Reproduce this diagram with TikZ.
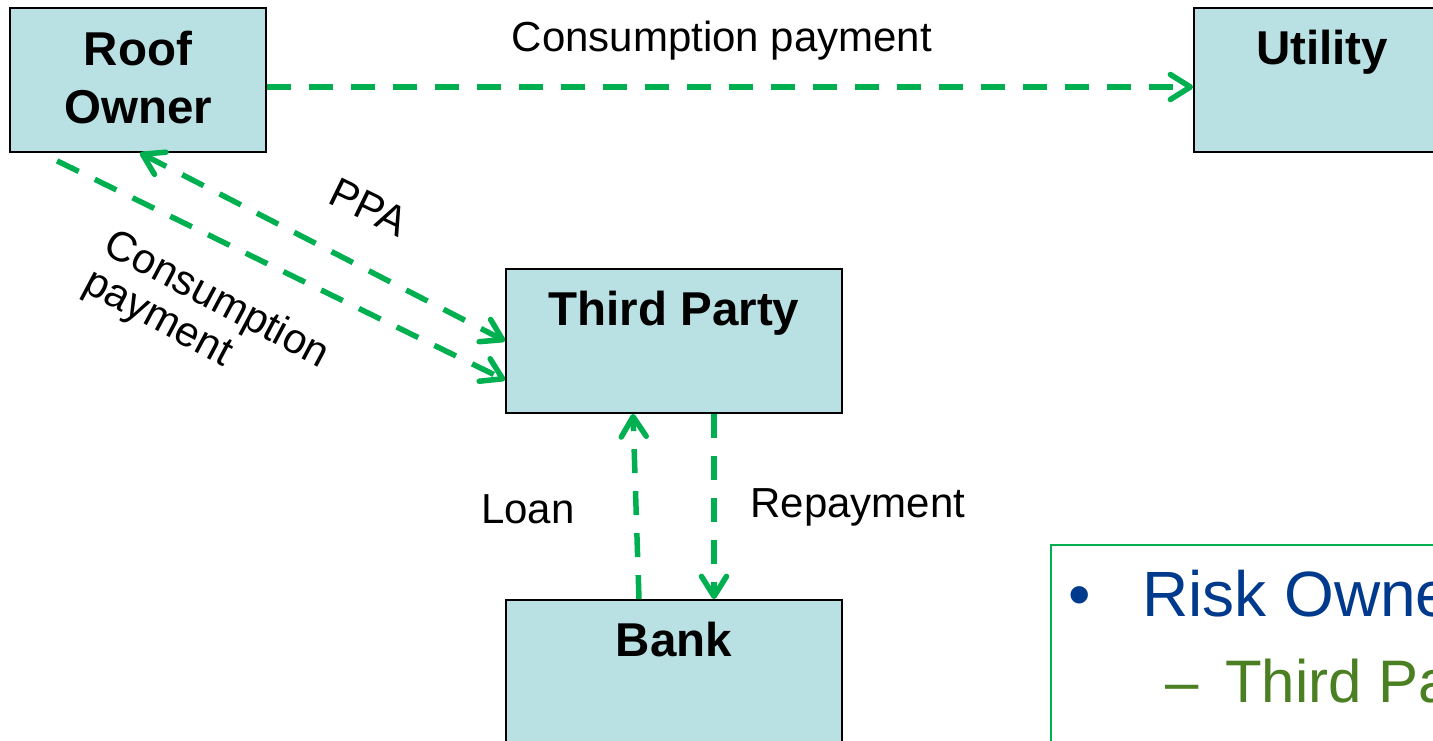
\documentclass[tikz,border=0pt]{standalone}
\usepackage{fontspec}
\setmainfont{Liberation Sans}
\usetikzlibrary{arrows.meta,calc}
\definecolor{flow}{HTML}{00B050}
\definecolor{boxfill}{HTML}{B9E0E3}
\definecolor{riskblue}{HTML}{003A8C}
\definecolor{riskgreen}{HTML}{4A7F22}
\tikzset{
  box/.style={draw=black, line width=1.8pt, fill=boxfill, minimum height=144pt, inner sep=0pt},
  boxtext/.style={font=\fontsize{47.5}{58}\selectfont\bfseries, inner sep=0pt, align=center},
  lbl/.style={font=\fontsize{42}{48}\selectfont, inner sep=0pt},
  flowline/.style={draw=flow, line width=5.5pt, dash pattern=on 24pt off 18pt},
  tip/.style={-{Straight Barb[length=20pt,width=25pt,round]}},
  bothtips/.style={{Straight Barb[length=20pt,width=25pt,round]}-{Straight Barb[length=20pt,width=25pt,round]}},
  risktext/.style={inner sep=0pt, anchor=base west}
}
\begin{document}
\begin{tikzpicture}[x=1pt,y=-1pt]
\useasboundingbox (0,0) rectangle (1433,741);
\clip (0,0) rectangle (1433,741);
% boxes
\node[box, minimum width=256pt] (roof) at (138,80) {};
\node[box, minimum width=256pt] (util) at (1322,80) {};
\node[box, minimum width=336pt] (third) at (674,341) {};
\node[box, minimum width=336pt] (bank) at (674,672) {};
\node[boxtext] (roofT) at (138,78) {Roof\\Owner};
\node[boxtext, anchor=base] (utilT) at (1322,65) {Utility};
\node[boxtext, anchor=base] (thirdT) at (674,325) {Third Party};
\node[boxtext, anchor=base] (bankT) at (674,656) {Bank};
% risk box
\node[draw=flow, line width=1.5pt, fill=white, minimum width=500pt, minimum height=300pt, anchor=north west, inner sep=0pt] (risk) at (1050,544) {};
\node[risktext, anchor=base, text=riskblue, font=\fontsize{64}{70}\selectfont] (bul) at (1080,616) {•};
\node[risktext, text=riskblue, font=\fontsize{64}{70}\selectfont] (riskA) at (1142,616) {Risk Owner};
\node[risktext, text=riskgreen, font=\fontsize{60}{66}\selectfont] (dashB) at (1165,702) {–};
\node[risktext, text=riskgreen, font=\fontsize{60}{66}\selectfont] (riskB) at (1225,702) {Third Party};
% connectors
\draw[flowline, tip] ([shift={(0,7)}]roof.east) -- ([shift={(0,7)}]util.west);
\draw[flowline, bothtips] ([shift={(2,0)}]roof.south) -- (third.west);
\draw[flowline, tip] ([shift={(48,8)}]roof.south west) -- ([shift={(0,39)}]third.west);
\draw[flowline, tip] ([shift={(-35,0)}]bank.north) -- ([shift={(-41,0)}]third.south);
\draw[flowline, tip] ([shift={(40,0)}]third.south) -- ([shift={(40,0)}]bank.north);
% labels
\node[lbl, anchor=base] (cpTop) at (722,52) {Consumption payment};
\node[lbl, rotate=-26] (ppa) at (369,207) {PPA};
\node[lbl, rotate=-28, align=left, font=\fontsize{42}{44}\selectfont] (cpDiag) at (206,320) {Consumption\\payment};
\node[lbl, anchor=base] (loan) at (528,523) {Loan};
\node[lbl, anchor=base] (repay) at (858,517) {Repayment};
\end{tikzpicture}
\end{document}
